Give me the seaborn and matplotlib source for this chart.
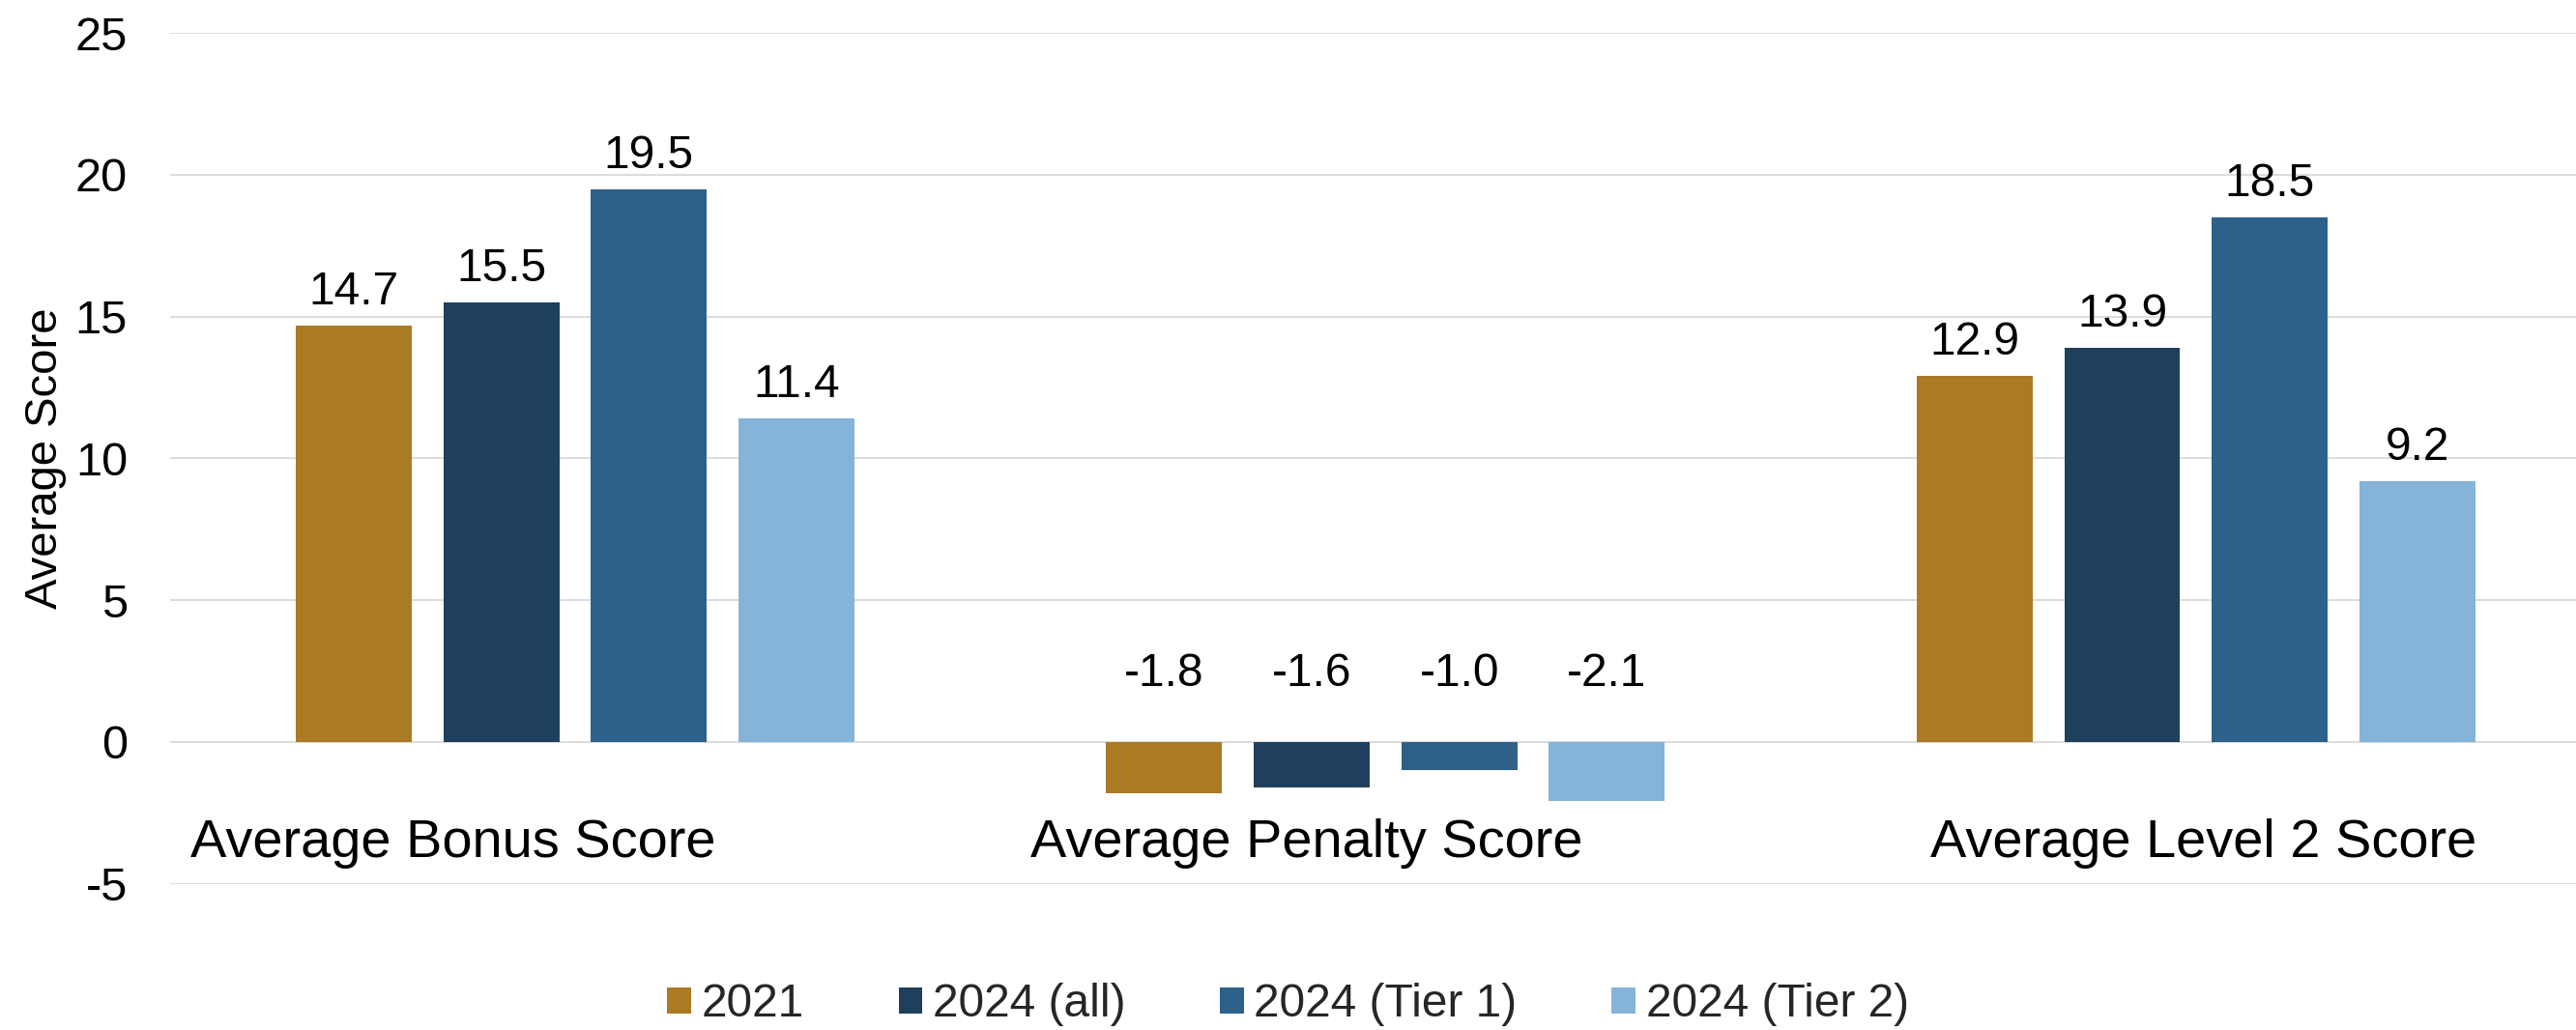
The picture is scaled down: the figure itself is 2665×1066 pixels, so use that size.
import matplotlib
matplotlib.use("Agg")
import matplotlib.pyplot as plt
import seaborn as sns
import pandas as pd

# --- data -------------------------------------------------------------
categories = ["Average Bonus Score", "Average Penalty Score", "Average Level 2 Score"]
series = ["2021", "2024 (all)", "2024 (Tier 1)", "2024 (Tier 2)"]
scores_2021 = [14.7, -1.8, 12.9]
scores_2024_all = [15.5, -1.6, 13.9]
scores_2024_tier1 = [19.5, -1.0, 18.5]
scores_2024_tier2 = [11.4, -2.1, 9.2]
y_ticks = [-5, 0, 5, 10, 15, 20, 25]

colors = ["#AB7A25", "#1F405C", "#2D618A", "#85B4D8"]
# horizontal nudge of each category caption (in category units)
label_shift = [-0.150, -0.097, 0.009]

all_scores = [scores_2021, scores_2024_all, scores_2024_tier1, scores_2024_tier2]
df = pd.DataFrame(
    [(c, s, v) for s, vals in zip(series, all_scores) for c, v in zip(categories, vals)],
    columns=["Metric", "Series", "Score"],
)

# --- style ------------------------------------------------------------
sns.set_theme(style="white")
plt.rcParams["font.family"] = ["Liberation Sans", "DejaVu Sans"]

W, H = 2665, 1066
fig = plt.figure(figsize=(W / 100, H / 100), dpi=100)
left_px, top_px, bottom_px = 175.7, 34.3, 914.5
ax = fig.add_axes([left_px / W, (H - bottom_px) / H, (W - left_px) / W, (bottom_px - top_px) / H])

sns.barplot(
    data=df, x="Metric", y="Score", hue="Series",
    order=categories, hue_order=series, palette=colors,
    width=0.728, gap=0.214, saturation=1, errorbar=None,
    linewidth=0, ax=ax,
)

ax.set_xlim(-0.5, 2.469)
ax.set_ylim(-5, 25)
ax.set_yticks(y_ticks)
ax.set_yticklabels([str(t) for t in y_ticks])
ax.tick_params(axis="y", length=0, pad=31.5, labelsize=35, labelcolor="black")
ax.tick_params(axis="x", bottom=False, labelbottom=False)
ax.set_xlabel("")
ax.grid(axis="y", color="#D9D9D9", linewidth=1.3)
ax.grid(axis="x", visible=False)
ax.set_axisbelow(True)
for sp in ax.spines.values():
    sp.set_visible(False)

ax.set_ylabel("Average Score", fontsize=34, color="black")
ax.yaxis.label.set_va("center")
ax.yaxis.set_label_coords((47 - left_px) / (W - left_px), 0.5)

# category captions between the zero line and the bottom gridline
for i, (cat, dx) in enumerate(zip(categories, label_shift)):
    ax.text(i + dx, -4.06, cat, ha="center", va="baseline", fontsize=40.3, color="black")

# value labels
for container, vals in zip(ax.containers, all_scores):
    for patch, v in zip(container.patches, vals):
        xc = patch.get_x() + patch.get_width() / 2
        if v >= 0:
            ax.annotate(f"{v:.1f}", (xc, v), xytext=(0, 15.8), textcoords="offset points",
                        ha="center", va="baseline", fontsize=34.5, color="black")
        else:
            ax.annotate(f"{v:.1f}", (xc, 0), xytext=(0, 41.8), textcoords="offset points",
                        ha="center", va="baseline", fontsize=34.5, color="black")

# legend along the bottom edge
handles, labels = ax.get_legend_handles_labels()
if ax.get_legend() is not None:
    ax.get_legend().remove()
fig.legend(
    handles, labels, loc="center", bbox_to_anchor=(0.5, (H - 1040) / H),
    ncol=4, frameon=False, fontsize=34.5,
    handlelength=0.515, handleheight=0.515, handletextpad=0.22,
    columnspacing=2.04, borderpad=0,
)

fig.savefig("out.png", dpi=100)
